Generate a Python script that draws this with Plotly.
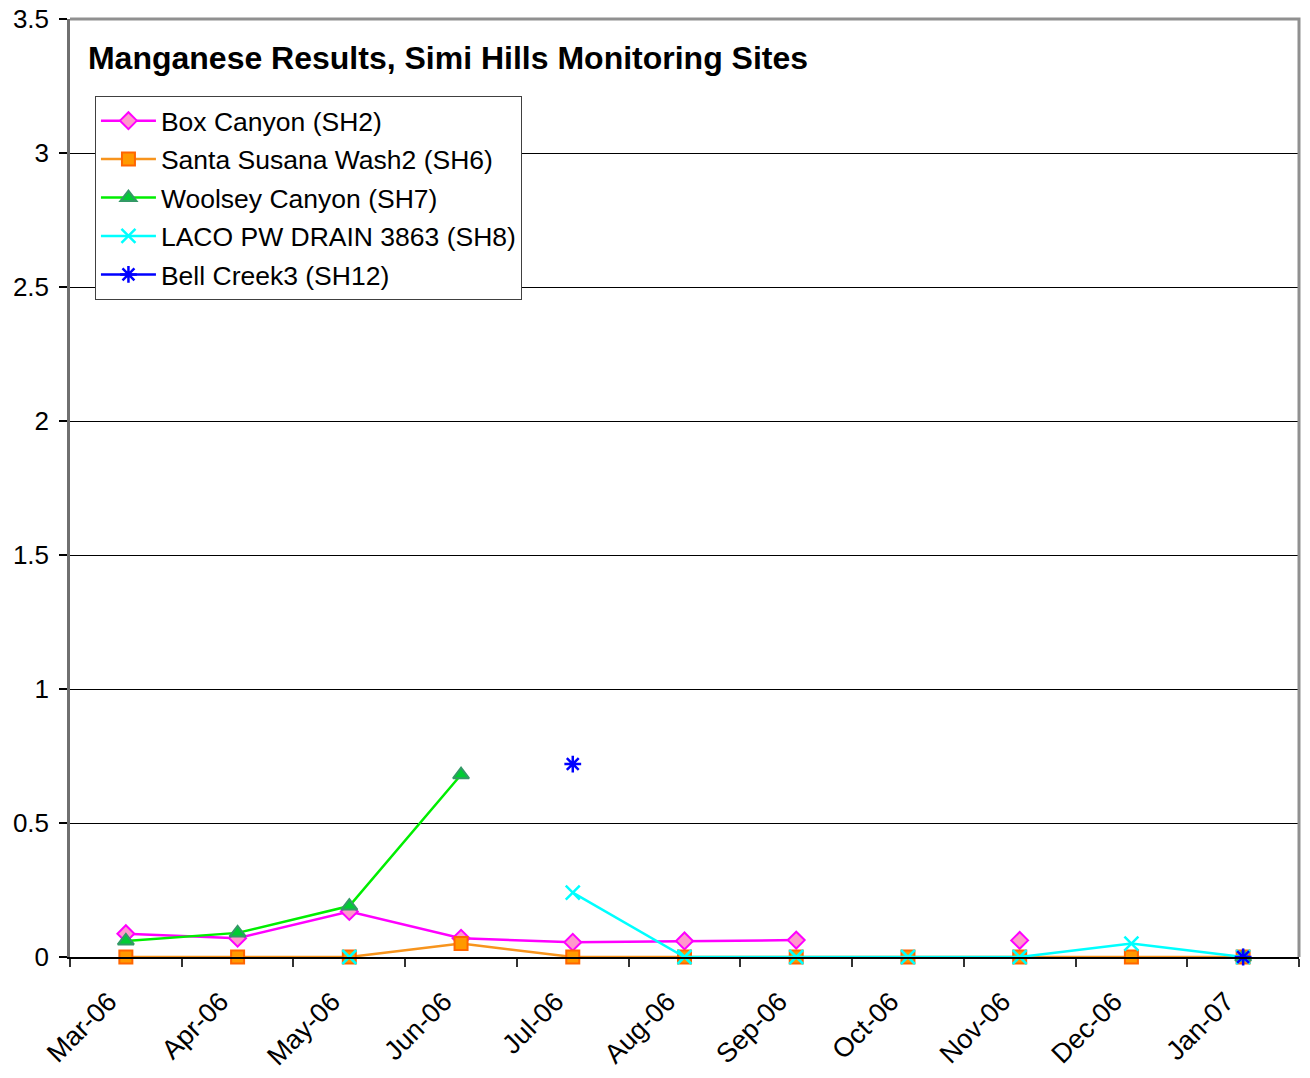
import plotly.graph_objects as go

months = ["Mar-06", "Apr-06", "May-06", "Jun-06", "Jul-06", "Aug-06",
          "Sep-06", "Oct-06", "Nov-06", "Dec-06", "Jan-07"]

box_canyon = [0.087, 0.07, 0.17, 0.07, 0.055, 0.06, 0.063, None, 0.062, None, None]
santa_susana = [0, 0, 0, 0.05, 0, 0, 0, 0, 0, 0, 0]
woolsey = [0.06, 0.09, 0.19, 0.68, None, None, None, None, None, None, 0]
laco = [None, None, 0, None, 0.24, 0, 0, 0, 0, 0.05, 0]
bell_creek = [None, None, None, None, 0.72, None, None, None, None, None, 0]

FONT = "Arial, Liberation Sans, sans-serif"

series = [
    ("Box Canyon (SH2)", box_canyon, "#FF00FF",
     dict(symbol="diamond", size=13, color="#FF99CC", line=dict(color="#FF00FF", width=2))),
    ("Santa Susana Wash2 (SH6)", santa_susana, "#F7941D",
     dict(symbol="square", size=13, color="#FF9900", line=dict(color="#FF6600", width=2))),
    ("Woolsey Canyon (SH7)", woolsey, "#00EE00",
     dict(symbol="triangle-up", size=14, color="#00CC33", line=dict(color="#339966", width=2))),
    ("LACO PW DRAIN 3863 (SH8)", laco, "#00FFFF",
     dict(symbol="x-thin-open", size=14, color="#00FFFF", line=dict(color="#00FFFF", width=2.5))),
    ("Bell Creek3 (SH12)", bell_creek, "#0000FF",
     dict(symbol="asterisk-open", size=14, color="#0000FF", line=dict(color="#0000FF", width=2.5))),
]

fig = go.Figure()
for i, (name, vals, lc, mk) in enumerate(series):
    fig.add_trace(go.Scatter(
        x=months, y=vals, name=name, mode="lines+markers",
        line=dict(color=lc, width=2.5), marker=mk,
        legendgroup=f"g{i}", cliponaxis=False,
    ))

# page body has an 8px default margin, so margins are offset by 8px
fig.update_layout(
    width=1310, height=1078,
    margin=dict(l=62, r=19, t=11, b=129, autoexpand=False),
    paper_bgcolor="white", plot_bgcolor="white",
    font=dict(family=FONT, size=26, color="black"),
    title=dict(text="<b>Manganese Results, Simi Hills Monitoring Sites</b>",
               font=dict(family=FONT, size=32, color="black"),
               xref="paper", x=0.0146, xanchor="left",
               yref="container", y=1 - 50 / 1078, yanchor="middle"),
    legend=dict(x=0.0203, y=0.918, xanchor="left", yanchor="top",
                bgcolor="white", bordercolor="#404040", borderwidth=1,
                font=dict(family=FONT, size=26.5, color="black"),
                tracegroupgap=1, itemwidth=55),
    showlegend=True,
)

fig.update_xaxes(
    type="category", range=[-0.5, 10.5],
    showgrid=False, showline=True, linecolor="black", linewidth=2,
    ticks="outside", tickson="boundaries", ticklen=8, tickcolor="#333333", tickwidth=2,
    tickangle=-45, tickfont=dict(family=FONT, size=27, color="black"),
    ticklabelstandoff=16, ticklabelshift=-17,
)
fig.update_yaxes(
    range=[0, 3.5], dtick=0.5, tick0=0,
    showgrid=True, gridcolor="black", gridwidth=1.2,
    zeroline=True, zerolinecolor="black", zerolinewidth=2,
    showline=True, linecolor="#707070", linewidth=2.5,
    ticks="outside", ticklen=8, tickcolor="black", tickwidth=1.5,
    tickfont=dict(family=FONT, size=26, color="black"),
    ticklabelstandoff=5, ticklabeloverflow="allow",
)

fig.add_shape(type="path", xref="paper", yref="paper",
              path="M 0,1 L 1,1 L 1,0", line=dict(color="#909090", width=3),
              layer="above")

fig.write_html("out.html")
